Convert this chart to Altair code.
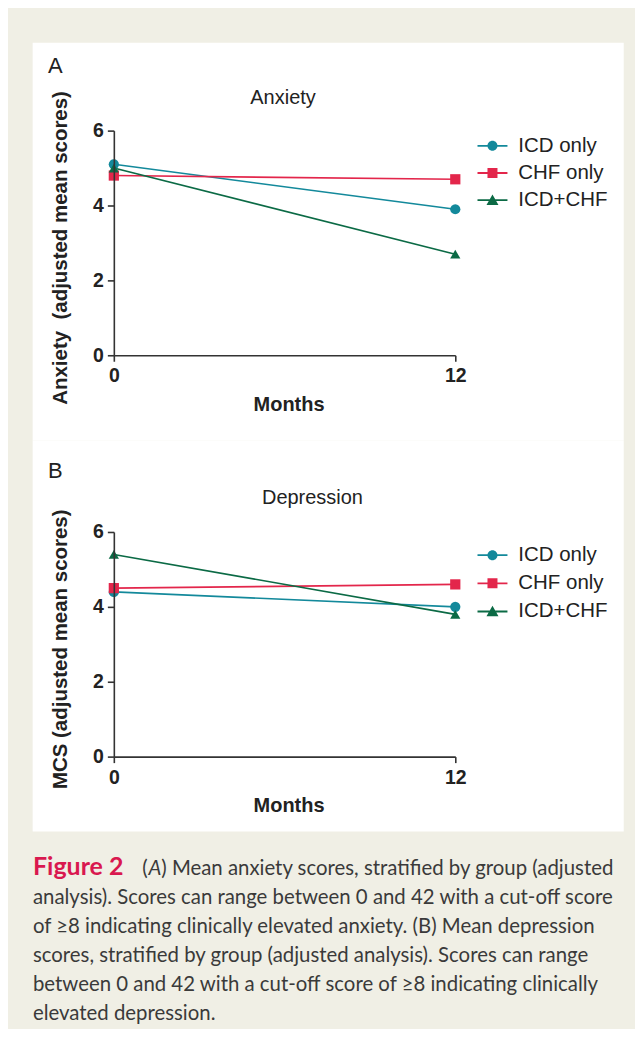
import altair as alt
import pandas as pd

# ---------------- data ----------------
months = [0, 12]
groups = ["ICD only", "CHF only", "ICD+CHF"]
colors = ["#13899b", "#e3264b", "#0b6a45"]
shapes = ["circle", "square", "triangle-up"]

anx_icd = [5.1, 3.9]
anx_chf = [4.8, 4.7]
anx_both = [5.0, 2.7]

dep_icd = [4.4, 4.0]
dep_chf = [4.5, 4.6]
dep_both = [5.4, 3.8]

y_ticks = [0, 2, 4, 6]
x_ticks = [0, 12]

caption_lines = [
    "analysis). Scores can range between 0 and 42 with a cut-off score",
    "of \u22658 indicating clinically elevated anxiety. (B) Mean depression",
    "scores, stratified by group (adjusted analysis). Scores can range",
    "between 0 and 42 with a cut-off score of \u22658 indicating clinically",
    "elevated depression.",
]


def long_df(series):
    rows = []
    for g, vals in zip(groups, series):
        for m, v in zip(months, vals):
            rows.append({"month": m, "score": v, "group": g})
    return pd.DataFrame(rows)


anx_df = long_df([anx_icd, anx_chf, anx_both])
dep_df = long_df([dep_icd, dep_chf, dep_both])

FONT = "Liberation Sans"
CAP_FONT = "Lato"
INK = "#222222"
CAP_INK = "#3a3a3a"
BG = "#f0efe5"

W, H = 342, 225
LEFT = -81.3
RIGHT = 510.7

# legend glyphs: a short line with the marker in the middle (all filled)
bar_p = "M-3,-0.18L3,-0.18L3,0.18L-3,0.18Z"
circle_p = bar_p + "M1,0A1,1,0,1,1,-1,0A1,1,0,1,1,1,0Z"
square_p = bar_p + "M-1,-1L1,-1L1,1L-1,1Z"
tri_p = bar_p + "M0,-1.15L1.2,0.95L-1.2,0.95Z"

one = pd.DataFrame({"k": [0]})


def text_layer(txt, x, y, size, weight="normal", style="normal", color=INK,
               font=FONT, align="left"):
    return alt.Chart(pd.DataFrame({"t": [txt]})).mark_text(
        align=align, baseline="alphabetic", font=font, fontSize=size,
        fontWeight=weight, fontStyle=style, color=color,
    ).encode(text="t:N", x=alt.value(x), y=alt.value(y))


def panel(df, letter, letter_y, title, title_x, title_y, ytitle,
          rect_top, rect_bottom, legend_y, row_pad, extra=None):
    leg = alt.Legend(
        title=None, orient="none", legendX=369, legendY=legend_y,
        labelFont=FONT, labelFontSize=20.5, labelColor=INK,
        labelOffset=15.6, symbolSize=100, rowPadding=row_pad, padding=0,
        zindex=1, symbolOpacity=1, symbolStrokeWidth=0,
    )
    color = alt.Color("group:N", scale=alt.Scale(domain=groups, range=colors),
                      legend=leg)
    x = alt.X(
        "month:Q",
        scale=alt.Scale(domain=[0, 12], nice=False, zero=False),
        axis=alt.Axis(
            values=x_ticks, title="Months", grid=False, zindex=1,
            labelFlush=False,
            domainColor="#333333", domainWidth=1.6, tickColor="#333333",
            tickWidth=1.6, tickSize=6, labelFont=FONT, labelFontSize=19.5,
            labelFontWeight="bold", labelColor=INK, labelPadding=5.5,
            titleFont=FONT, titleFontSize=20, titleFontWeight="bold",
            titleColor=INK, titleX=175, titleY=55, titleBaseline="alphabetic",
            titleAlign="center",
        ),
    )
    y = alt.Y(
        "score:Q",
        scale=alt.Scale(domain=[0, 6], nice=False),
        axis=alt.Axis(
            values=y_ticks, title=ytitle, grid=False, zindex=1,
            labelFlush=False,
            domainColor="#333333", domainWidth=1.6, tickColor="#333333",
            tickWidth=1.6, tickSize=6.5, labelFont=FONT, labelFontSize=19.5,
            labelFontWeight="bold", labelColor=INK, labelPadding=4,
            titleFont=FONT, titleFontSize=20.5, titleFontWeight="bold",
            titleColor=INK, titleX=-47.5, titleY=117, titleAngle=270,
            titleBaseline="alphabetic", titleAlign="center",
        ),
    )
    base = alt.Chart(df)
    bg = alt.Chart(one).mark_rect(color="white").encode(
        x=alt.value(LEFT), x2=alt.value(RIGHT),
        y=alt.value(rect_top), y2=alt.value(rect_bottom),
    )
    # legend provider: draws nothing in the plot, carries the legend glyphs
    legend_src = base.transform_filter("false").mark_point(
        filled=True, opacity=1, size=100
    ).encode(
        x=x, y=y, color=color,
        shape=alt.Shape("group:N",
                        scale=alt.Scale(domain=groups,
                                        range=[circle_p, square_p, tri_p]),
                        legend=leg),
    )
    lines = base.mark_line(strokeWidth=1.6).encode(
        x=x, y=y, color=color, detail="group:N",
        order=alt.Order("month:Q"),
    )
    pts = []
    for g, shp in zip(groups, shapes):
        pts.append(
            base.transform_filter(alt.datum.group == g).mark_point(
                filled=True, opacity=1, size=105, shape=shp
            ).encode(x=x, y=y, color=color)
        )
    layers = [bg, legend_src, lines] + pts + [
        text_layer(letter, -66, letter_y, 22),
        text_layer(title, title_x, title_y, 20),
    ]
    if extra:
        layers += extra
    return alt.layer(*layers).properties(width=W, height=H)


cap_x = -81
cap_base = 343.3
cap_step = 29
CAP_SIZE = 20.4
caption = [
    text_layer("Figure 2", cap_x, cap_base, 25, weight="bold",
               color="#d9184f", font=CAP_FONT),
    text_layer("(", 28.4, cap_base, CAP_SIZE, color=CAP_INK, font=CAP_FONT),
    text_layer("A", 34.8, cap_base, CAP_SIZE, style="italic", color=CAP_INK,
               font=CAP_FONT),
    text_layer(") Mean anxiety scores, stratified by group (adjusted", 47.5,
               cap_base, CAP_SIZE, color=CAP_INK, font=CAP_FONT),
]
for i, line in enumerate(caption_lines):
    caption.append(text_layer(line, cap_x, cap_base + cap_step * (i + 1),
                              CAP_SIZE, color=CAP_INK, font=CAP_FONT))
filler = alt.Chart(one).mark_rect(opacity=0).encode(
    x=alt.value(LEFT), x2=alt.value(RIGHT),
    y=alt.value(300), y2=alt.value(497),
)

panel_a = panel(anx_df, "A", -57.3, "Anxiety", 136.7, -26.7,
                "Anxiety\u00a0 (adjusted mean scores)", -88, 310, 5, 6.2)
panel_b = panel(dep_df, "B", -54, "Depression", 148.4, -27.7,
                "MCS (adjusted mean scores)", -92, 300, 13, 7.2,
                extra=[filler] + caption)

chart = alt.vconcat(panel_a, panel_b, spacing=0).resolve_scale(
    color="independent", shape="independent"
).resolve_legend(
    color="independent", shape="independent"
).properties(
    padding={"left": 24, "top": 34, "right": 11, "bottom": 0},
    background=BG,
).configure_view(strokeWidth=0)

chart.save("out.html", embed_options={"renderer": "svg", "actions": False})
